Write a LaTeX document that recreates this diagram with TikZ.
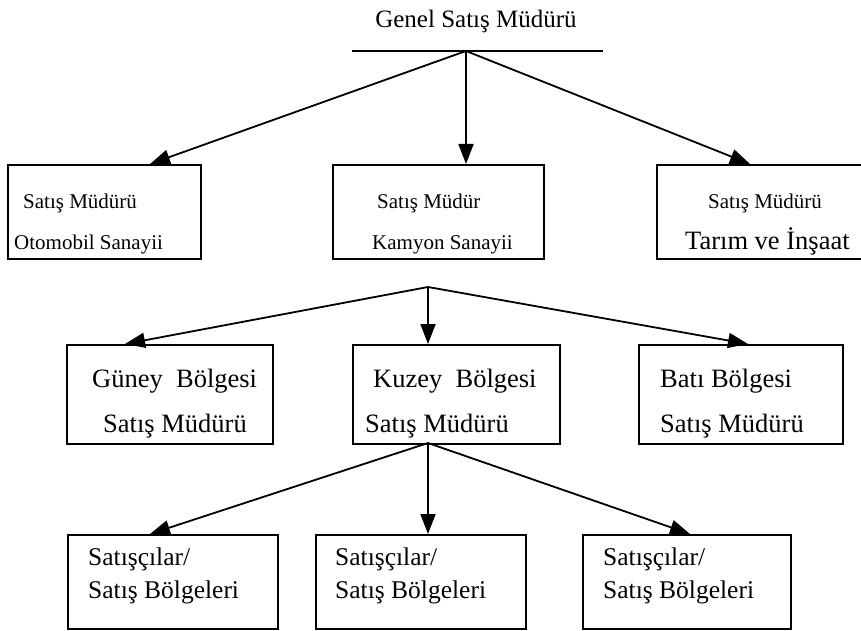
\documentclass[tikz,border=0pt]{standalone}
\usepackage{fontspec}
\setmainfont{Liberation Serif}
\usetikzlibrary{arrows.meta}

\begin{document}
\begin{tikzpicture}[x=1pt, y=1pt,
    kutu/.style={draw, line width=1.8pt, anchor=north west, inner sep=0pt},
    yazi/.style={anchor=base west, inner sep=0pt, font=\fontsize{21}{24}\selectfont},
    iri/.style={anchor=base west, inner sep=0pt, font=\fontsize{26.5}{30}\selectfont},
    ok/.style={line width=1.8pt, -{Triangle[length=20pt, width=15pt]}}]
  \useasboundingbox (0,0) rectangle (861,630);

  % genel satis muduru
  \node[iri, anchor=base, font=\fontsize{25}{28}\selectfont] (gsm) at (476,602) {Genel Satış Müdürü};
  \draw[line width=1.8pt] (352,579) coordinate (cl) -- (603,579) coordinate (cr);
  \coordinate (dal0) at (466,579);

  % sanayi kutulari
  \node[kutu, minimum width=193pt, minimum height=94pt] (oto) at (7,466) {};
  \node[kutu, minimum width=211pt, minimum height=94pt] (kam) at (332,466) {};
  \node[kutu, minimum width=214pt, minimum height=94pt] (tar) at (656,466) {};
  \node[yazi] (oto1) at (23,421) {Satış Müdürü};
  \node[yazi] (oto2) at (14,381) {Otomobil Sanayii};
  \node[yazi] (kam1) at (377,421) {Satış Müdür};
  \node[yazi] (kam2) at (372,381) {Kamyon Sanayii};
  \node[yazi] (tar1) at (708,421) {Satış Müdürü};
  \node[iri] (tar2) at (685,381) {Tarım ve İnşaat};
  \coordinate (u1) at (150,466);
  \coordinate (u2) at (466,466);
  \coordinate (u3) at (750,466);
  \draw[ok] (dal0) -- (u1);
  \draw[ok] (dal0) -- (u2);
  \draw[ok] (dal0) -- (u3);

  % bolge kutulari
  \coordinate (dal1) at (428,343);
  \node[kutu, minimum width=206pt, minimum height=99pt] (guney) at (66,286) {};
  \node[kutu, minimum width=207pt, minimum height=99pt] (kuzey) at (352,286) {};
  \node[kutu, minimum width=204pt, minimum height=99pt] (bati) at (638,286) {};
  \node[iri] (guney1) at (92,243) {Güney~~Bölgesi};
  \node[iri] (guney2) at (103,198) {Satış Müdürü};
  \node[iri] (kuzey1) at (373,243) {Kuzey~~Bölgesi};
  \node[iri] (kuzey2) at (365,198) {Satış Müdürü};
  \node[iri] (bati1) at (660,243) {Batı Bölgesi};
  \node[iri] (bati2) at (660,198) {Satış Müdürü};
  \coordinate (b1) at (125,286);
  \coordinate (b2) at (428,286);
  \coordinate (b3) at (748,286);
  \draw[ok] (dal1) -- (b1);
  \draw[ok] (dal1) -- (b2);
  \draw[ok] (dal1) -- (b3);

  % saticilar
  \coordinate (dal2) at (428,187);
  \node[kutu, minimum width=210pt, minimum height=94pt] (sat1) at (67,96) {};
  \node[kutu, minimum width=210pt, minimum height=94pt] (sat2) at (315,96) {};
  \node[kutu, minimum width=208pt, minimum height=94pt] (sat3) at (582,96) {};
  \foreach \k/\x in {sat1/88, sat2/335, sat3/603} {
    \node[iri, font=\fontsize{25.5}{29}\selectfont] (\k a) at (\x,65) {Satışçılar/};
    \node[iri, font=\fontsize{25.5}{29}\selectfont] (\k b) at (\x,32) {Satış Bölgeleri};
  }
  \coordinate (s1) at (150,96);
  \coordinate (s2) at (428,96);
  \coordinate (s3) at (690,96);
  \draw[ok] (dal2) -- (s1);
  \draw[ok] (dal2) -- (s2);
  \draw[ok] (dal2) -- (s3);
\end{tikzpicture}
\end{document}
